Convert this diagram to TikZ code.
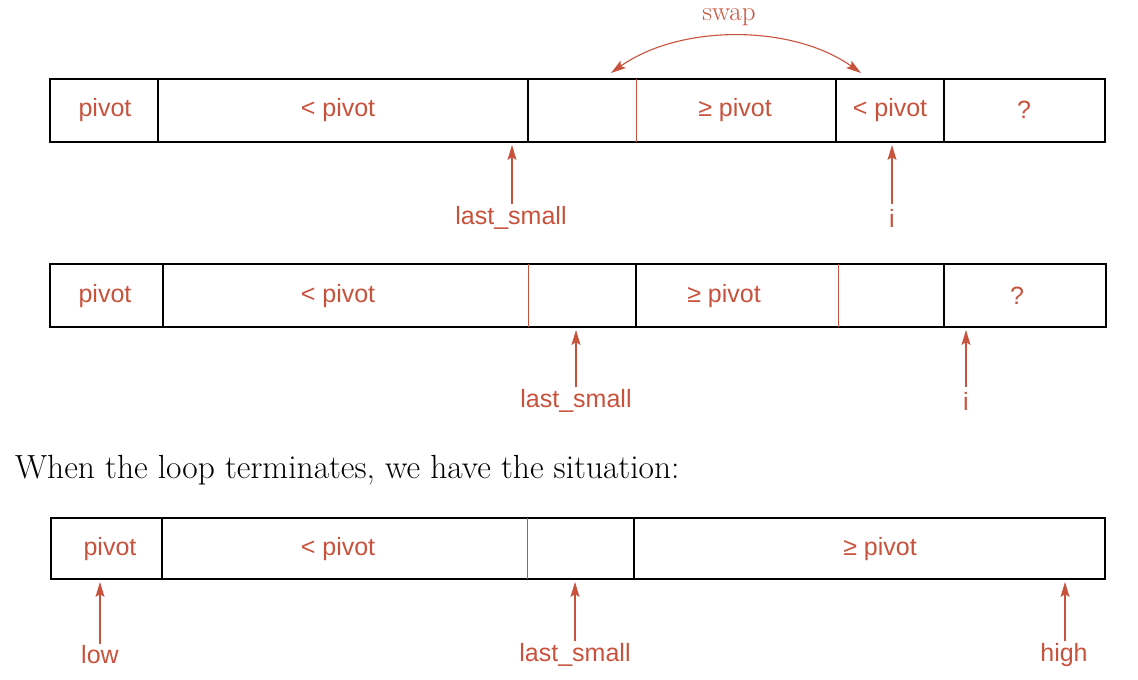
\documentclass[tikz,border=0pt]{standalone}
\usepackage{fontspec}
\newfontfamily\labfont{Liberation Sans}
\usetikzlibrary{arrows.meta}
\definecolor{myred}{RGB}{200,82,60}
\tikzset{
  outer/.style={draw=black,line width=2.6pt},
  blackdiv/.style={draw=black,line width=2.2pt},
  reddiv/.style={draw=myred,line width=1pt},
  cell/.style={text=myred,font=\labfont\fontsize{25}{28}\selectfont,inner sep=1pt},
  lab/.style={text=myred,font=\labfont\fontsize{25}{28}\selectfont,inner sep=2pt},
  tip/.style={},
  ptr/.style={draw=myred,line width=1.1pt,-{Stealth[length=15pt,width=9pt,inset=3pt]}},
}
\begin{document}
\begin{tikzpicture}[x=1pt,y=-1pt]
\useasboundingbox (0,0) rectangle (1138,680);
% ---------- Row 1 ----------
\draw[outer] (50,79) rectangle (1105,142);
\draw[blackdiv] (158,79) -- (158,142);
\draw[blackdiv] (528,79) -- (528,142);
\draw[reddiv] (636,79) -- (636,142);
\draw[blackdiv] (836,79) -- (836,142);
\draw[blackdiv] (944,79) -- (944,142);
\node[cell] (r1a) at (105,110) {pivot};
\node[cell] (r1b) at (338,110) {< pivot};
\node[cell] (r1c) at (735,110) {≥ pivot};
\node[cell] (r1d) at (890,110) {< pivot};
\node[cell] (r1e) at (1024,110) {?};
\coordinate (s1) at (611,73);
\coordinate (s2) at (861,73);
\draw[draw=myred,line width=1.1pt,{Stealth[length=15pt,width=9pt,inset=3pt]}-{Stealth[length=15pt,width=9pt,inset=3pt]}]
  (s1) .. controls (680,24) and (792,24) .. (s2);
\node[text=myred,font=\fontsize{27}{30}\selectfont] (swap) at (729,17) {swap};
\node[lab] (ls1) at (511,218) {last\_small};
\coordinate (ls1t) at (512,145);
\draw[ptr] (ls1t |- ls1.north) -- (ls1t);
\node[lab] (i1) at (892,218) {i};
\coordinate (i1t) at (892,145);
\draw[ptr] (i1t |- ls1.north) -- (i1t);
% ---------- Row 2 ----------
\draw[outer] (50,264) rectangle (1106,327);
\draw[blackdiv] (163,264) -- (163,327);
\draw[reddiv] (528,264) -- (528,327);
\draw[blackdiv] (636,264) -- (636,327);
\draw[reddiv] (838,264) -- (838,327);
\draw[blackdiv] (944,264) -- (944,327);
\node[cell] (r2a) at (105,296) {pivot};
\node[cell] (r2b) at (338,296) {< pivot};
\node[cell] (r2c) at (724,296) {≥ pivot};
\node[cell] (r2e) at (1017,296) {?};
\node[lab] (ls2) at (576,401) {last\_small};
\coordinate (ls2t) at (576,330);
\draw[ptr] (ls2t |- ls2.north) -- (ls2t);
\node[lab] (i2) at (966,401) {i};
\coordinate (i2t) at (966,330);
\draw[ptr] (i2t |- ls2.north) -- (i2t);
% ---------- Text ----------
\node[anchor=base west,inner sep=0pt,font=\fontsize{33.5}{38}\selectfont] (txt) at (15,478) {When the loop terminates, we have the situation:};
% ---------- Row 3 ----------
\draw[outer] (51,518) rectangle (1105,579);
\draw[blackdiv] (162,518) -- (162,579);
\draw[reddiv] (527,518) -- (527,579);
\draw[blackdiv] (634,518) -- (634,579);
\node[cell] (r3a) at (110,549) {pivot};
\node[cell] (r3b) at (338,549) {< pivot};
\node[cell] (r3c) at (880,549) {≥ pivot};
\node[lab] (low) at (100,655) {low};
\coordinate (lowt) at (100,582);
\draw[ptr] (lowt |- low.north) -- (lowt);
\node[lab] (ls3) at (575,655) {last\_small};
\coordinate (ls3t) at (575,582);
\draw[ptr] (ls3t |- ls3.north) -- (ls3t);
\node[lab] (high) at (1064,655) {high};
\coordinate (hight) at (1065,582);
\draw[ptr] (hight |- ls3.north) -- (hight);
\end{tikzpicture}
\end{document}
